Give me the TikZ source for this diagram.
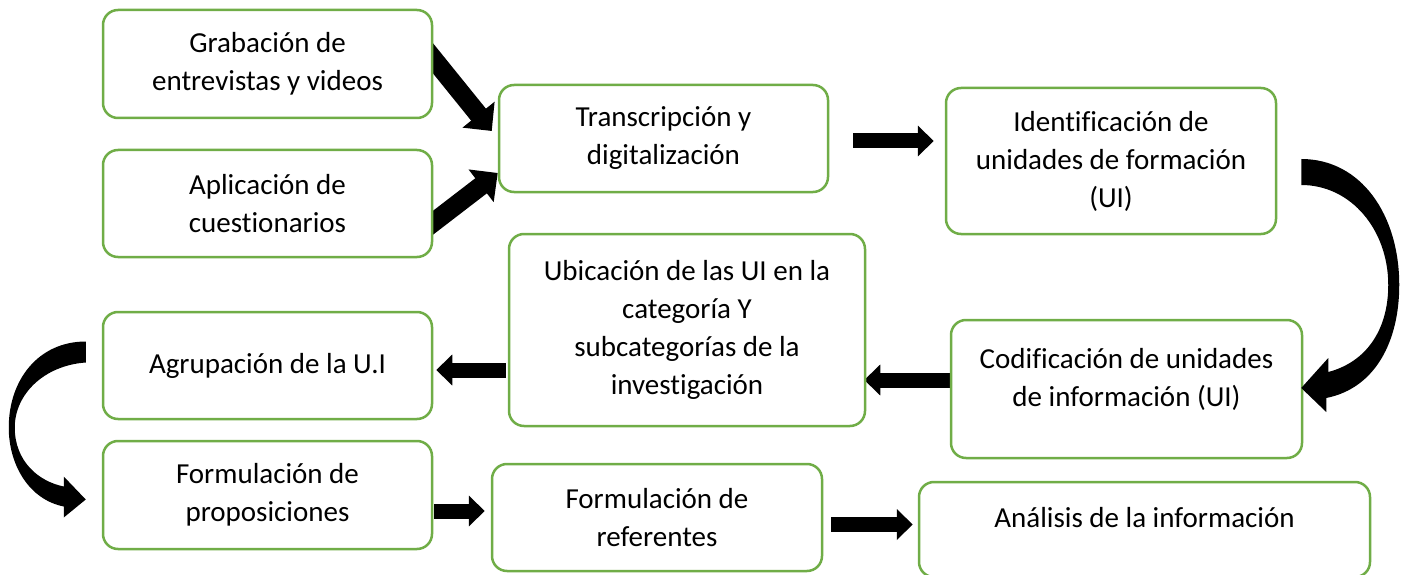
\documentclass[tikz,border=0pt]{standalone}
\usepackage{fontspec}
\setmainfont{Carlito}[Ligatures=NoCommon]
\usetikzlibrary{arrows.meta,calc,backgrounds}
\definecolor{boxgreen}{HTML}{70AD47}
\newcommand{\nolig}{\kern0pt}

\begin{document}
\begin{tikzpicture}[x=1pt, y=-1pt]

\tikzstyle{box1}=[rectangle, rounded corners=15pt, draw=boxgreen, fill=white, line width=2.5pt, align=center, inner sep=0pt, font=\fontsize{29}{38}\selectfont]
\tikzstyle{arrow}=[line width=15pt, -{Triangle[width=30pt,length=16pt]}]
\tikzstyle{bigarrow}=[line width=19pt, -{Triangle[width=40pt,length=21pt]}]

\useasboundingbox (0,0) rectangle (1406,575);

\node (A) [box1, minimum width=329pt, minimum height=108pt] at (267.5,64)    {Grabación de\\entrevistas y videos};
\node (B) [box1, minimum width=329pt, minimum height=107pt] at (267.5,203.5) {Aplicación de\\cuest\nolig ionarios};
\node (C) [box1, minimum width=329pt, minimum height=107pt] at (663.5,138.5) {Transcripción y\\digitalización};
\node (D) [box1, minimum width=330pt, minimum height=146pt] at (1111,161)    {Identif\nolig icación de\\unidades de formación\\(UI)};
\node (E) [box1, minimum width=356pt, minimum height=192pt] at (687,330)     {Ubicación de las UI en la\\categoría Y\\subcategorías de la\\invest\nolig igación};
\node (F) [box1, minimum width=329pt, minimum height=107pt] at (267.5,365.5) {Agrupación de la U.I};
\node (G) [box1, minimum width=351pt, minimum height=138pt, text depth=24pt] at (1126.5,389) {Codif\nolig icación de unidades\\de información (UI)};
\node (H) [box1, minimum width=329pt, minimum height=108pt] at (267.5,495)   {Formulación de\\proposiciones};
\node (I) [box1, minimum width=330pt, minimum height=107pt] at (657,517.5)   {Formulación de\\referentes};
\node (J) [box1, minimum width=451pt, minimum height=95pt, text depth=24pt] at (1144.5,529.5) {Análisis de la información};

\begin{scope}[on background layer]
\draw [bigarrow] ($(A.east)+(-9,-16.5)$) -- ($(C.west)+(-6,-7.5)$);
\draw [bigarrow] ($(B.east)+(-11,27.5)$) -- ($(C.west)+(0,34.5)$);
\draw [arrow] ($(C.east)+(24,2.5)$) -- ($(C.east -| D.west)+(-11,2.5)$);
\draw [arrow] ($(G.west)+(6,-9)$) -- ($(G.west -| E.east)+(-2,-9)$);
\draw [arrow] ($(E.west)+(-2,40)$) -- ($(E.west -| F.east)+(3,40)$);
\draw [arrow] ($(H.east)+(1,16)$) -- ($(H.east -| I.west)+(-6,16)$);
\draw [arrow] ($(I.east)+(8,7)$) -- ($(I.east -| J.west)+(-5,7)$);
\end{scope}

% curved arrows
\fill [shift={(D.east)}] (24,-2) -- (24,24) .. controls (74,24) and (111,69) .. (111,124)
  .. controls (111,169) and (89,201) .. (51,211) -- (51,197) -- (24,227) -- (49,251) -- (49,237)
  .. controls (99,227) and (122,179) .. (122,124) .. controls (122,54) and (84,-2) .. (24,-2) -- cycle;
\fill [shift={(F.west)}] (-16,-24) -- (-16,-3) .. controls (-58,0) and (-87,29) .. (-87,62)
  .. controls (-87,96) and (-63,116) .. (-38,121) -- (-38,111) -- (-16,134) -- (-38,152) -- (-38,141)
  .. controls (-73,134) and (-93,99) .. (-93,62) .. controls (-93,14) and (-63,-24) .. (-16,-24) -- cycle;

\end{tikzpicture}
\end{document}
